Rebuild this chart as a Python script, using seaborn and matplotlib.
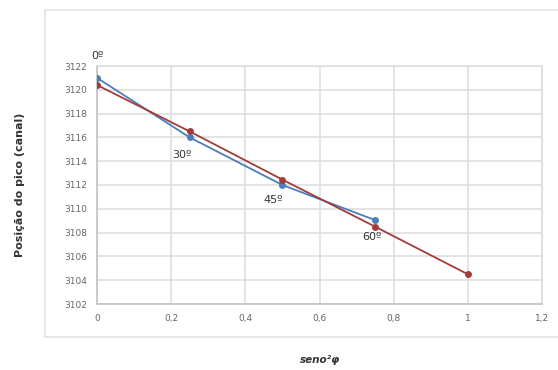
import numpy as np
import pandas as pd
import matplotlib
matplotlib.use("Agg")
import matplotlib.pyplot as plt
import seaborn as sns
from matplotlib.patches import Rectangle

# data
sin2_blue = [0, 0.25, 0.5, 0.75]
pos_blue = [3121.0, 3116.0, 3112.0, 3109.05]
sin2_red = [0, 0.25, 0.5, 0.75, 1.0]
pos_red = [3120.4, 3116.5, 3112.45, 3108.5, 3104.5]
angle_labels = ["0º", "30º", "45º", "60º"]
x_ticks = [0, 0.2, 0.4, 0.6, 0.8, 1.0, 1.2]
x_tick_labels = ["0", "0,2", "0,4", "0,6", "0,8", "1", "1,2"]
y_ticks = list(range(3102, 3123, 2))

BLUE = "#4a7ebb"
RED = "#a33b3b"
GRID = "#dcdcdc"

sns.set_style("white")
plt.rcParams["font.family"] = ["DejaVu Sans"]

fig = plt.figure(figsize=(5.58, 3.70), dpi=100)
fig.patch.set_facecolor("white")

# outer chart frame like the spreadsheet chart area
fig.patches.append(Rectangle((45 / 558, 1 - 337 / 370), 520 / 558, 327 / 370,
                             transform=fig.transFigure, fill=False,
                             edgecolor="#e3e3e3", linewidth=1.2, zorder=0))

ax = fig.add_axes([97 / 558, 1 - 304 / 370, (542 - 97) / 558, (304 - 66) / 370])

df_blue = pd.DataFrame({"x": sin2_blue, "y": pos_blue})
df_red = pd.DataFrame({"x": sin2_red, "y": pos_red})

sns.lineplot(data=df_blue, x="x", y="y", ax=ax, color=BLUE, marker="o",
             markersize=5, markeredgewidth=0, linewidth=1.3, zorder=3)
sns.lineplot(data=df_red, x="x", y="y", ax=ax, color=RED, marker="o",
             markersize=5, markeredgewidth=0, linewidth=1.3, zorder=4)

# angle annotations
offsets = [(0, 16), (-6, -13), (-7, -11), (-2, -12)]
for x, y, lab, (dx, dy) in zip(sin2_blue, pos_blue, angle_labels, offsets):
    ax.annotate(lab, (x, y), xytext=(dx, dy), textcoords="offset points",
                ha="center", va="center", fontsize=8, color="#333333")

ax.set_xlim(0, 1.2)
ax.set_ylim(3102, 3122)
ax.set_xticks(x_ticks)
ax.set_xticklabels(x_tick_labels)
ax.set_yticks(y_ticks)
ax.tick_params(axis="both", labelsize=6.5, colors="#666666", length=0, pad=7)
ax.grid(True, color=GRID, linewidth=1.1)
ax.set_axisbelow(True)
for s in ax.spines.values():
    s.set_color(GRID)
    s.set_linewidth(1.1)
ax.spines["left"].set_color("#bfbfbf")
ax.spines["bottom"].set_color("#bfbfbf")

ax.set_xlabel("")
ax.set_ylabel("")
fig.text(320 / 558, 1 - 360 / 370, "seno²φ", ha="center", va="center",
         fontsize=7.5, style="italic", fontweight="bold", color="#333333")
fig.text(20 / 558, 1 - 185 / 370, "Posição do pico (canal)", rotation=90,
         ha="center", va="center", fontsize=8, fontweight="bold", color="#333333")

fig.savefig("out.png", dpi=100)
